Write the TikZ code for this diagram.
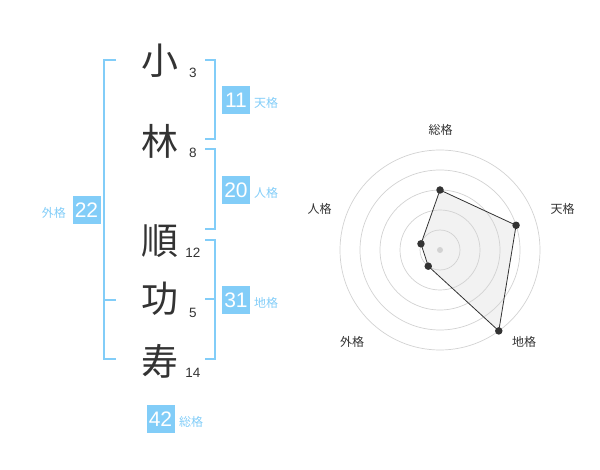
\documentclass[tikz,border=0pt]{standalone}
\usepackage{fontspec}
\setmainfont{Liberation Sans}
\newfontfamily\jp{Noto Sans CJK JP}
\usetikzlibrary{calc}
\definecolor{sky}{RGB}{130,205,248}
\definecolor{ink}{RGB}{51,51,51}
\definecolor{gridc}{RGB}{210,210,210}
\definecolor{polyfill}{RGB}{242,242,242}
\begin{document}
\begin{tikzpicture}[x=1pt,y=-1pt,
 kanji/.style={font=\jp\fontsize{37}{37}\selectfont, text=ink, inner sep=0},
 strokes/.style={font=\fontsize{13.5}{13.5}\selectfont, text=ink, inner sep=0},
 numbox/.style={fill=sky, text=white, minimum width=28pt, minimum height=28pt, inner sep=0, font=\fontsize{21}{21}\selectfont},
 kaku/.style={font=\jp\fontsize{12}{12}\selectfont, text=sky, inner sep=0},
 bracket/.style={draw=sky, line width=2pt},
 ring/.style={draw=gridc, line width=0.7pt},
 axislbl/.style={font=\jp\fontsize{12}{12}\selectfont, text=ink, inner sep=0},
 dot/.style={circle, fill=ink, inner sep=0, minimum size=7.5pt},
 polyline/.style={draw=ink, line width=0.8pt},
]
\useasboundingbox (0,0) rectangle (600,470);

% characters
\node[kanji] (k1) at (160,61) {小};
\node[kanji] (k2) at (160,141) {林};
\node[kanji] (k3) at (160,241) {順};
\node[kanji] (k4) at (160,299) {功};
\node[kanji] (k5) at (160,361) {寿};

\node[strokes] (s1) at (193,73) {3};
\node[strokes] (s2) at (193,153) {8};
\node[strokes] (s3) at (193,253) {12};
\node[strokes] (s4) at (193,313) {5};
\node[strokes] (s5) at (193,373) {14};

% brackets
\draw[bracket] (116,60) -- (104,60) -- (104,359) -- (116,359);
\draw[bracket] (104,300) -- (116,300);
\draw[bracket] (205,60) -- (215,60) -- (215,139) -- (205,139);
\draw[bracket] (205,149) -- (215,149) -- (215,229) -- (205,229);
\draw[bracket] (205,240) -- (215,240) -- (215,359) -- (205,359);
\draw[bracket] (205,299) -- (215,299);

% boxes
\node[numbox] (b11) at (236,100) {11};
\node[kaku, anchor=west] (l11) at (254,103) {天格};
\node[numbox] (b20) at (236,190) {20};
\node[kaku, anchor=west] (l20) at (254,193) {人格};
\node[numbox] (b31) at (236,300) {31};
\node[kaku, anchor=west] (l31) at (254,303) {地格};
\node[numbox] (b22) at (86.5,210) {22};
\node[kaku, anchor=east] (l22) at (66,213) {外格};
\node[numbox] (b42) at (160.5,419) {42};
\node[kaku, anchor=west] (l42) at (179,422) {総格};

% radar
\coordinate (c) at (440,250);
\coordinate (p1) at ($(c)+(-90:60)$);
\coordinate (p2) at ($(c)+(-18:80)$);
\coordinate (p3) at ($(c)+(54:100)$);
\coordinate (p4) at ($(c)+(126:20)$);
\coordinate (p5) at ($(c)+(198:20)$);
\fill[polyfill] (p1) -- (p2) -- (p3) -- (p4) -- (p5) -- cycle;
\foreach \r in {20,40,60,80,100} \draw[ring] (c) circle (\r);
\draw[polyline] (p1) -- (p2) -- (p3) -- (p4) -- (p5) -- cycle;
\node[circle, fill=gridc, inner sep=0, minimum size=6pt] (cd) at (c) {};
\foreach \p in {p1,p2,p3,p4,p5} \node[dot] (d\p) at (\p) {};

\node[axislbl] (a1) at (440.5,130) {総格};
\node[axislbl] (a2) at (562.5,208.5) {天格};
\node[axislbl] (a3) at (524,342) {地格};
\node[axislbl] (a4) at (352,342) {外格};
\node[axislbl] (a5) at (319.5,208.5) {人格};
\end{tikzpicture}
\end{document}
